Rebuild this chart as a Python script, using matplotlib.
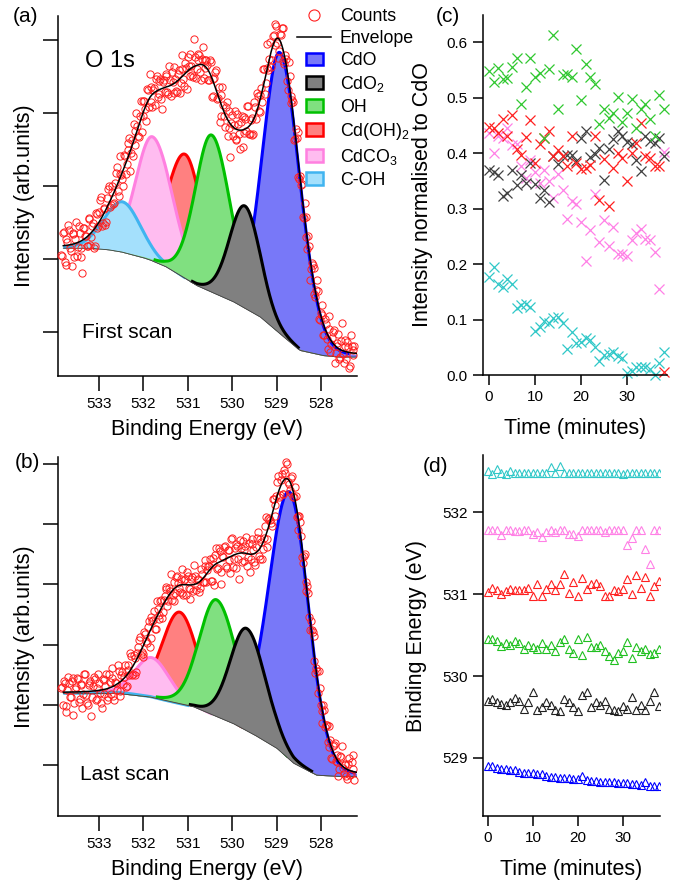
import numpy as np
import matplotlib.pyplot as plt
from matplotlib.lines import Line2D
from matplotlib.patches import Patch, Rectangle
from matplotlib.legend_handler import HandlerPatch

plt.rcParams['font.family'] = ['Liberation Sans', 'DejaVu Sans']
plt.rcParams['mathtext.default'] = 'regular'

# components, same order in both fits
names = ['CdO', 'CdO$_2$', 'OH', 'Cd(OH)$_2$', 'CdCO$_3$', 'C-OH']
line_col = ['#0000ff', '#000000', '#00c000', '#ff0000', '#ff80e0', '#40b4f0']
fill_col = ['#7878f8', '#808080', '#80e080', '#ff8080', '#ffbcf0', '#a4e0fc']
draw_order = [0, 3, 4, 5, 2, 1]

# (a) first scan: peak centre (eV), height, fwhm on high / low BE side
a_center = [528.92, 529.71, 530.46, 531.05, 531.79, 532.46]
a_height = [3.85, 1.40, 2.15, 1.70, 1.70, 0.69]
a_fwhm_hi = [0.92, 0.82, 0.88, 0.98, 0.90, 1.00]
a_fwhm_lo = [1.05, 0.82, 1.00, 0.92, 1.05, 0.95]
a_bg_ev = [533.9, 533.2, 532.8, 532.5, 532.0, 531.85, 531.5, 530.8, 529.98, 529.37, 528.85, 528.47, 527.95, 527.6, 527.2]
a_bg = [2.15, 2.15, 2.13, 2.10, 2.02, 1.99, 1.90, 1.64, 1.42, 1.21, 0.94, 0.75, 0.68, 0.66, 0.66]
a_resid = [-8, 12, -15, 6, 18, -3, -20, 9, 4, -12, 15, -6, -30, 10, 2, -9, 14, -4, 7, -16,
           11, -2, 19, -8, 5, -13, 8, 16, -5, 3, -10, 13, -7, 21, 0, -14, 9, -3, 12, -18,
           6, 15, -9, 4, -11, 17, -2, 8, -15, 10, 22, -6, 3, -12, 14, -4, 9, -19, 7, 12,
           -5, 18, -10, 2, 15, -8, 6, -13, 20, -3, 10, -16, 4, 13, -7, 25, -11, 5, 9, -14,
           16, -2, 7, -9, 12, -18, 3, 14, -6, 10, -12, 19, -4, 8, -15, 11, 2, -8, 16, -10,
           5, -17, 13, -3, 9, 20, -7, 4, -12, 15, -5, 11, -9, 6, 17, -13, 3, -6, 12, -10,
           8, 14, -4, -11, 7, 18, -8, 5, -14, 10, -2, 13, -7, 9, -12, 4, 11, -6, 8, -9,
           6, -4, 10, -7, 5, 12, -8, 3, -10, 9, -5, 7, -11, 4, 13, -6, 2, -9, 8, -3,
           10, -7, 5, -12, 6, 3]

# (b) last scan
b_center = [528.70, 529.67, 530.35, 531.18, 531.81, 532.45]
b_height = [4.45, 1.70, 1.94, 1.52, 0.66, 0.02]
b_fwhm_hi = [1.10, 0.88, 0.92, 0.95, 0.92, 1.00]
b_fwhm_lo = [1.00, 1.00, 1.08, 0.95, 0.92, 1.00]
b_bg_ev = [533.9, 532.6, 531.85, 530.88, 529.98, 529.5, 529.0, 528.62, 528.1, 527.65, 527.2]
b_bg = [2.19, 2.19, 2.13, 1.97, 1.69, 1.50, 1.28, 1.03, 0.83, 0.81, 0.81]
b_resid = [5, -14, 10, -22, 17, -6, 12, -25, 3, 15, -11, 8, -18, 20, -4, -15, 9, -28, 6, 13,
           -9, 18, -3, -20, 11, 4, -13, 16, -7, 10, -16, 2, 21, -10, 7, -5, 14, -12, 3, 19,
           -8, 11, -15, 6, 16, -4, -11, 13, -2, 9, -17, 12, 5, -9, 18, -6, 10, -13, 4, 15,
           -10, 7, 20, -5, -14, 11, 3, -8, 17, -12, 6, 14, -3, -16, 9, 22, -7, 4, -11, 13,
           -4, 18, -9, 6, 12, -15, 2, 10, -6, 16, -12, 5, 14, -8, 9, -3, 19, -13, 7, 11,
           -6, 15, -10, 3, 8, -14, 12, -5, 17, -9, 6, 21, -11, 4, -7, 13, -16, 9, 2, -12,
           10, -4, 15, -8, 6, -13, 11, 18, -3, -10, 8, -6, 14, -9, 5, 12, -11, 7, -4, 9,
           -8, 6, 11, -5, 3, -10, 8, -6, 12, -3, 7, -9, 5, -11, 10, -4, 6, -7, 9, -2,
           4, -8, 6, -5, 10, 3]

# (c) intensity normalised to CdO vs time
time_min = list(range(39))
c_oh = [0.548, 0.529, 0.554, 0.534, 0.535, 0.556, 0.571, 0.489, 0.520, 0.571, 0.537, 0.545, 0.428,
        0.552, 0.613, 0.479, 0.541, 0.543, 0.537, 0.588, 0.496, 0.561, 0.538, 0.524, 0.452, 0.480,
        0.463, 0.473, 0.502, 0.457, 0.472, 0.498, 0.446, 0.480, 0.489, 0.461, 0.430, 0.505, 0.480]
c_cdoh2 = [0.447, 0.446, 0.436, 0.461, 0.430, 0.468, 0.408, 0.397, 0.429, 0.459, 0.382, 0.417, 0.427,
           0.439, 0.394, 0.406, 0.394, 0.376, 0.430, 0.382, 0.371, 0.373, 0.379, 0.430, 0.316, 0.389,
           0.304, 0.374, 0.401, 0.391, 0.350, 0.400, 0.418, 0.455, 0.394, 0.392, 0.376, 0.376, 0.006]
c_cdo2 = [0.370, 0.366, 0.361, 0.323, 0.328, 0.370, 0.342, 0.360, 0.347, 0.382, 0.345, 0.320, 0.333,
          0.311, 0.394, 0.381, 0.395, 0.397, 0.397, 0.385, 0.427, 0.440, 0.393, 0.399, 0.410, 0.352,
          0.408, 0.425, 0.440, 0.430, 0.420, 0.417, 0.388, 0.368, 0.430, 0.422, 0.418, 0.427, 0.394]
c_cdco3 = [0.437, 0.400, 0.430, 0.428, 0.446, 0.414, 0.417, 0.377, 0.355, 0.388, 0.366, 0.346, 0.370,
           0.349, 0.320, 0.363, 0.333, 0.281, 0.314, 0.308, 0.275, 0.206, 0.262, 0.327, 0.239, 0.280,
           0.233, 0.266, 0.218, 0.218, 0.215, 0.243, 0.256, 0.263, 0.245, 0.244, 0.221, 0.155, 0.402]
c_coh = [0.177, 0.195, 0.164, 0.159, 0.173, 0.164, 0.120, 0.126, 0.128, 0.122, 0.079, 0.087, 0.098,
         0.094, 0.102, 0.104, 0.093, 0.047, 0.077, 0.057, 0.060, 0.066, 0.064, 0.051, 0.025, 0.037,
         0.038, 0.042, 0.035, 0.030, 0.004, 0.007, 0.015, 0.015, 0.015, 0.010, 0.000, 0.021, 0.042]

# (d) binding energy of each component vs time
d_cdo = [528.90, 528.90, 528.88, 528.87, 528.86, 528.85, 528.85, 528.83, 528.82, 528.82, 528.81, 528.80, 528.80,
         528.78, 528.77, 528.77, 528.75, 528.75, 528.75, 528.74, 528.74, 528.78, 528.73, 528.72, 528.72, 528.71,
         528.71, 528.70, 528.70, 528.69, 528.69, 528.69, 528.68, 528.68, 528.67, 528.70, 528.66, 528.66, 528.66]
d_cdo2 = [529.69, 529.72, 529.68, 529.66, 529.65, 529.68, 529.73, 529.70, 529.60, 529.68, 529.80, 529.58, 529.62,
          529.68, 529.65, 529.58, 529.57, 529.72, 529.68, 529.62, 529.57, 529.77, 529.80, 529.62, 529.68, 529.65,
          529.70, 529.60, 529.58, 529.57, 529.63, 529.60, 529.74, 529.58, 529.65, 529.58, 529.70, 529.80, 529.63]
d_oh = [530.45, 530.45, 530.43, 530.37, 530.40, 530.38, 530.43, 530.40, 530.33, 530.38, 530.35, 530.33, 530.40,
        530.33, 530.38, 530.31, 530.42, 530.45, 530.33, 530.28, 530.45, 530.26, 530.48, 530.35, 530.35, 530.38,
        530.30, 530.25, 530.20, 530.28, 530.30, 530.42, 530.22, 530.35, 530.30, 530.33, 530.27, 530.28, 530.33]
d_cdoh2 = [531.03, 531.07, 531.05, 531.00, 531.04, 531.06, 531.05, 531.05, 531.05, 531.07, 530.98, 531.13, 530.98,
           531.06, 531.12, 531.05, 531.13, 531.25, 531.01, 531.15, 530.98, 531.20, 531.06, 531.12, 531.14, 531.10,
           530.98, 530.98, 531.05, 531.04, 531.06, 531.19, 531.00, 531.23, 531.08, 531.21, 530.98, 531.10, 531.16]
d_cdco3 = [531.78, 531.78, 531.78, 531.72, 531.78, 531.78, 531.77, 531.77, 531.78, 531.78, 531.74, 531.76, 531.70,
           531.76, 531.78, 531.76, 531.78, 531.78, 531.74, 531.73, 531.71, 531.78, 531.78, 531.78, 531.78, 531.78,
           531.76, 531.78, 531.78, 531.78, 531.78, 531.60, 531.69, 531.78, 531.78, 531.55, 531.37, 531.78, 531.78]
d_coh = [532.50, 532.47, 532.53, 532.48, 532.47, 532.51, 532.48, 532.48, 532.48, 532.48, 532.48, 532.48, 532.48,
         532.48, 532.55, 532.48, 532.56, 532.48, 532.48, 532.48, 532.48, 532.48, 532.48, 532.48, 532.48, 532.48,
         532.48, 532.48, 532.48, 532.48, 532.47, 532.48, 532.48, 532.48, 532.48, 532.48, 532.48, 532.48, 532.48]


def peak(x, c, h, w_hi, w_lo, mix=0.1):
    w = np.where(x > c, w_hi, w_lo)
    d = 4 * (x - c) ** 2 / w ** 2
    return h * ((1 - mix) * np.exp(-np.log(2) * d) + mix / (1 + d))


def fit_sum(x, center, height, fwhm_hi, fwhm_lo, bg_ev, bg_val):
    bg = np.interp(x, bg_ev[::-1], bg_val[::-1])
    comps = [peak(x, center[i], height[i], fwhm_hi[i], fwhm_lo[i]) for i in range(6)]
    return bg, comps


def draw_fit(ax, center, height, fwhm_hi, fwhm_lo, bg_ev, bg_val, resid):
    x = np.linspace(533.8, 527.2, 800)
    bg, comps = fit_sum(x, center, height, fwhm_hi, fwhm_lo, bg_ev, bg_val)
    env = bg + np.sum(comps, axis=0)

    for k, i in enumerate(draw_order):
        ax.fill_between(x, bg, bg + comps[i], color=fill_col[i], lw=0, zorder=1 + 2 * k)
        yy = np.where(comps[i] > 0.012 * height[i], bg + comps[i], np.nan)
        ax.plot(x, yy, color=line_col[i], lw=2.2, solid_capstyle='butt', zorder=2 + 2 * k)
    ax.plot(x, bg, color='#404040', lw=0.6, zorder=20)

    # measured points: two interleaved sweeps
    n = len(resid)
    xc = np.linspace(533.85, 527.25, 2 * n)
    r = np.empty(2 * n)
    r[0::2] = resid
    r[1::2] = resid[n // 2:] + resid[:n // 2]
    bgc, cc = fit_sum(xc, center, height, fwhm_hi, fwhm_lo, bg_ev, bg_val)
    counts = bgc + np.sum(cc, axis=0) + r * 0.015
    ax.plot(xc, counts, 'o', mfc='none', mec='#ff2020', ms=5.2, mew=0.7, clip_on=False, zorder=21)
    ax.plot(x, env, color='black', lw=1.1, zorder=22)

    ax.set_xlim(533.92, 527.19)
    ax.set_xticks([533, 532, 531, 530, 529, 528])
    ax.set_xlabel('Binding Energy (eV)', fontsize=15.5)
    ax.set_ylabel('Intensity (arb.units)', fontsize=15.5)
    ax.tick_params(axis='y', labelleft=False)


def style(ax):
    for s in ['top', 'right']:
        ax.spines[s].set_visible(False)
    for s in ['left', 'bottom']:
        ax.spines[s].set_linewidth(1.1)
    ax.tick_params(direction='out', length=8, width=1.1, labelsize=11, pad=4)


fig = plt.figure(figsize=(6.78, 8.82), dpi=100)
ax_a = fig.add_axes([0.0855, 0.5737, 0.441, 0.4082])
ax_b = fig.add_axes([0.0855, 0.0748, 0.441, 0.4071])
ax_c = fig.add_axes([0.7124, 0.5748, 0.2714, 0.4082])
ax_d = fig.add_axes([0.7124, 0.0748, 0.2611, 0.4093])

draw_fit(ax_a, a_center, a_height, a_fwhm_hi, a_fwhm_lo, a_bg_ev, a_bg, a_resid)
ax_a.set_ylim(0.40, 5.33)
ax_a.set_yticks([1, 2, 3, 4, 5])
draw_fit(ax_b, b_center, b_height, b_fwhm_hi, b_fwhm_lo, b_bg_ev, b_bg, b_resid)
ax_b.set_ylim(0.15, 6.12)
ax_b.set_yticks([1, 2, 3, 4, 5, 6])

for ax in [ax_a, ax_b]:
    style(ax)
    ax.tick_params(length=11)
    ax.yaxis.set_label_coords(-0.077, 0.5)
    ax.xaxis.set_label_coords(0.5, -0.12)

ax_a.text(0.09, 0.875, 'O 1s', transform=ax_a.transAxes, fontsize=17, va='center')
ax_a.text(0.08, 0.122, 'First scan', transform=ax_a.transAxes, fontsize=15, va='center')
ax_b.text(0.073, 0.117, 'Last scan', transform=ax_b.transAxes, fontsize=15, va='center')

# legend of panel (a)
handles = [Line2D([], [], ls='none', marker='o', mfc='none', mec='#ff2020', ms=8, mew=0.8),
           Line2D([], [], color='black', lw=1.1)]
handles += [Patch(facecolor=fill_col[i], edgecolor=line_col[i], lw=1.8) for i in range(6)]


def small_rect(legend, orig_handle, xdescent, ydescent, width, height, fontsize):
    return Rectangle((-xdescent + 0.27 * width, -ydescent), 0.5 * width, height)


fig.legend(handles, ['Counts', 'Envelope'] + names, loc='upper left',
           bbox_to_anchor=(297 / 678, 1 - 8 / 882), frameon=False, fontsize=12.8,
           handlelength=1.9, handletextpad=0.5, labelspacing=0.28, borderpad=0, borderaxespad=0,
           handler_map={Patch: HandlerPatch(patch_func=small_rect)})

# (c)
mk = dict(ls='none', marker='x', ms=6.5, mew=0.9, clip_on=False)
ax_c.plot(time_min, c_coh, color='#30c8c8', **mk)
ax_c.plot(time_min, c_cdco3, color='#ff80e6', **mk)
ax_c.plot(time_min, c_cdo2, color='#404040', **mk)
ax_c.plot(time_min, c_cdoh2, color='#ff2020', **mk)
ax_c.plot(time_min, c_oh, color='#30c830', **mk)
ax_c.set_xlim(-1.3, 38.7)
ax_c.set_ylim(0, 0.649)
ax_c.set_xticks([0, 10, 20, 30])
ax_c.set_yticks([0, 0.1, 0.2, 0.3, 0.4, 0.5, 0.6])
ax_c.set_yticklabels(['0.0', '0.1', '0.2', '0.3', '0.4', '0.5', '0.6'])
ax_c.set_xlabel('Time (minutes)', fontsize=15.5)
ax_c.set_ylabel('Intensity normalised to CdO', fontsize=15.5)

# (d)
mk = dict(ls='none', marker='^', ms=5.8, mfc='none', mew=0.8)
ax_d.plot(time_min, d_cdo, mec='#0000ff', **mk)
ax_d.plot(time_min, d_cdo2, mec='#202020', **mk)
ax_d.plot(time_min, d_oh, mec='#20c020', **mk)
ax_d.plot(time_min, d_cdoh2, mec='#ff2020', **mk)
ax_d.plot(time_min, d_cdco3, mec='#ff80e6', **mk)
ax_d.plot(time_min, d_coh, mec='#30c8c8', **mk)
ax_d.set_xlim(-1.1, 38.3)
ax_d.set_ylim(528.29, 532.70)
ax_d.set_xticks([0, 10, 20, 30])
ax_d.set_yticks([529, 530, 531, 532])
ax_d.set_xlabel('Time (minutes)', fontsize=15.5)
ax_d.set_ylabel('Binding Energy (eV)', fontsize=15.5)

for ax in [ax_c, ax_d]:
    style(ax)
    ax.tick_params(length=7)
    ax.xaxis.set_label_coords(0.5, -0.12)
ax_c.yaxis.set_label_coords(-0.27, 0.5)
ax_d.yaxis.set_label_coords(-0.316, 0.5)

fig.text(25 / 678, 1 - 17 / 882, '(a)', fontsize=15, ha='center', va='center')
fig.text(27 / 678, 1 - 463 / 882, '(b)', fontsize=15, ha='center', va='center')
fig.text(448 / 678, 1 - 16 / 882, '(c)', fontsize=15, ha='center', va='center')
fig.text(436 / 678, 1 - 467 / 882, '(d)', fontsize=15, ha='center', va='center')

fig.savefig('out.png', dpi=100)
